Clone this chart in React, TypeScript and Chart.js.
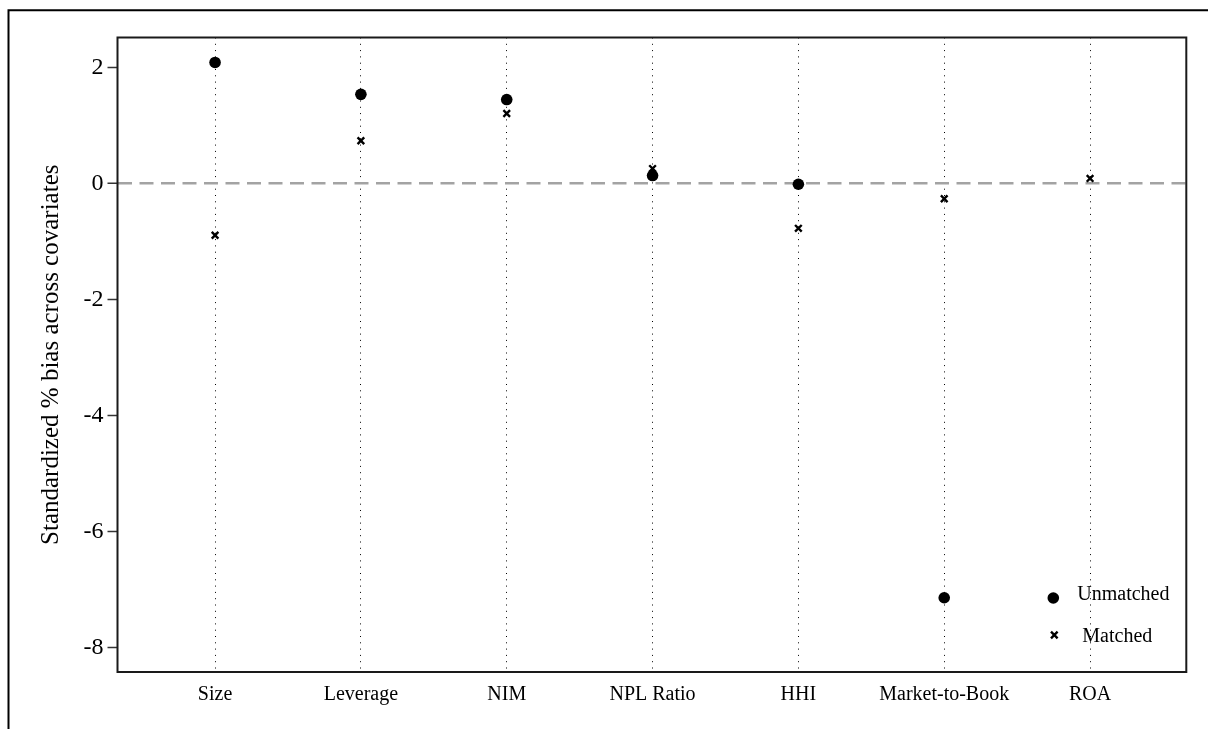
import React, { useEffect, useRef } from "react";
import { Chart, registerables } from "chart.js";

Chart.register(...registerables);

const categories = ["Size", "Leverage", "NIM", "NPL Ratio", "HHI", "Market-to-Book", "ROA"];
const unmatched: (number | null)[] = [2.09, 1.54, 1.45, 0.14, -0.01, -7.14, null];
const matched: number[] = [-0.89, 0.74, 1.21, 0.26, -0.77, -0.26, 0.09];
const yTicks = [-8, -6, -4, -2, 0, 2];
const yTitle = "Standardized % bias across covariates";
const legendLabels = ["Unmatched", "Matched"];

const SERIF = "'Liberation Serif', 'Times New Roman', serif";

const framePlugin = {
  id: "framePlugin",
  beforeDatasetsDraw(chart: any) {
    const { ctx, chartArea } = chart;
    ctx.save();
    ctx.strokeStyle = "#1a1a1a";
    ctx.lineWidth = 2;
    ctx.strokeRect(chartArea.left, chartArea.top, chartArea.right - chartArea.left, chartArea.bottom - chartArea.top);
    ctx.restore();
  },
  afterDraw(chart: any) {
    const { ctx, chartArea } = chart;
    ctx.save();
    ctx.strokeStyle = "#000";
    ctx.lineWidth = 2;
    ctx.beginPath();
    ctx.moveTo(8.5, 729);
    ctx.lineTo(8.5, 10.3);
    ctx.lineTo(1208, 10.3);
    ctx.stroke();
    const lx = chartArea.right - 133;
    const y1 = chartArea.bottom - 74;
    const y2 = chartArea.bottom - 37;
    ctx.fillStyle = "#000";
    ctx.beginPath();
    ctx.arc(lx, y1, 5.8, 0, Math.PI * 2);
    ctx.fill();
    ctx.lineWidth = 2.4;
    const d = 3.3;
    ctx.beginPath();
    ctx.moveTo(lx + 1 - d, y2 - d);
    ctx.lineTo(lx + 1 + d, y2 + d);
    ctx.moveTo(lx + 1 - d, y2 + d);
    ctx.lineTo(lx + 1 + d, y2 - d);
    ctx.stroke();
    ctx.font = `20px ${SERIF}`;
    ctx.textAlign = "left";
    ctx.textBaseline = "alphabetic";
    ctx.fillText(legendLabels[0], lx + 24, y1 + 2);
    ctx.fillText(legendLabels[1], lx + 29, y2 + 7);
    ctx.restore();
  },
};

export default function App() {
  const ref = useRef<HTMLCanvasElement | null>(null);
  useEffect(() => {
    if (!ref.current) return;
    const unmatchedPts = unmatched
      .map((v, i) => ({ x: i, y: v }))
      .filter((p) => p.y !== null) as { x: number; y: number }[];
    const matchedPts = matched.map((v, i) => ({ x: i, y: v }));
    const chart = new Chart(ref.current, {
      type: "scatter",
      data: {
        datasets: [
          {
            label: legendLabels[0],
            data: unmatchedPts,
            pointStyle: "circle",
            pointRadius: 5.8,
            backgroundColor: "#000",
            borderColor: "#000",
            borderWidth: 0,
          },
          {
            label: legendLabels[1],
            data: matchedPts,
            pointStyle: "crossRot",
            pointRadius: 4.7,
            backgroundColor: "#000",
            borderColor: "#000",
            borderWidth: 2.4,
          },
        ],
      },
      options: {
        responsive: false,
        animation: false,
        devicePixelRatio: 1,
        layout: { padding: { left: 0, top: 37.5, right: 21.7, bottom: 0 } },
        plugins: { legend: { display: false }, tooltip: { enabled: false } },
        scales: {
          x: {
            type: "linear",
            min: -0.669,
            max: 6.66,
            afterBuildTicks: (scale: any) => {
              scale.ticks = categories.map((_, i) => ({ value: i }));
            },
            afterFit: (scale: any) => {
              scale.height = 57;
            },
            border: { display: false, dash: [1, 5.3] },
            grid: {
              display: true,
              drawTicks: false,
              color: "#000",
              lineWidth: 1,
            },
            ticks: {
              padding: 11,
              color: "#000",
              font: { family: SERIF, size: 20 },
              callback: (v: any) => categories[Math.round(Number(v))] ?? "",
              maxRotation: 0,
              autoSkip: false,
            },
          },
          y: {
            type: "linear",
            min: -8.42,
            max: 2.52,
            afterBuildTicks: (scale: any) => {
              scale.ticks = yTicks.map((v) => ({ value: v }));
            },
            afterFit: (scale: any) => {
              scale.width = 117.5;
            },
            border: { display: false, dash: [14, 7.5] },
            grid: {
              display: true,
              drawTicks: true,
              tickLength: 10,
              tickColor: "#333",
              tickWidth: 1.5,
              tickBorderDash: [],
              color: (c: any) => (c.tick && c.tick.value === 0 ? "#a3a3a3" : "rgba(0,0,0,0)"),
              lineWidth: (c: any) => (c.tick && c.tick.value === 0 ? 2.5 : 0.01),
            },
            ticks: {
              padding: 4,
              color: "#000",
              font: { family: SERIF, size: 24 },
            },
            title: {
              display: true,
              text: yTitle,
              color: "#000",
              font: { family: SERIF, size: 25 },
              padding: { top: 36, bottom: 0 },
            },
          },
        },
      },
      plugins: [framePlugin],
    } as any);
    return () => chart.destroy();
  }, []);
  return (
    <div style={{ position: "absolute", left: 0, top: 0, width: 1208, height: 729, background: "#fff" }}>
      <canvas ref={ref} width={1208} height={729} style={{ display: "block" }} />
    </div>
  );
}
